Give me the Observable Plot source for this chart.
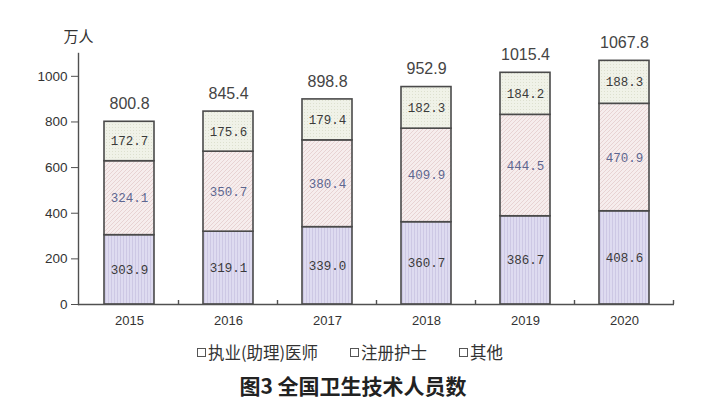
<!DOCTYPE html>
<html><head><meta charset="utf-8">
<script src="https://cdn.jsdelivr.net/npm/d3@7"></script>
<script src="https://cdn.jsdelivr.net/npm/@observablehq/plot@0.6"></script>
<style>
body{margin:0;background:#fff;width:720px;height:416px;overflow:hidden;font-family:"Noto Sans CJK SC",sans-serif}
#chart svg{display:block}
#legend{display:flex;justify-content:center;gap:32px;font-size:16.5px;color:#333;height:34px;align-items:center;padding-right:20px;box-sizing:border-box;width:720px}
#legend .item{display:flex;align-items:center}
#legend .sw{width:7px;height:7px;border:1.4px solid #555;background:#fff;margin-right:2px}
#title{text-align:center;font-size:21px;font-weight:bold;color:#222;padding-right:14px;margin-top:1px;line-height:30px}
</style></head>
<body>
<div id="chart"></div>
<div id="legend"></div>
<div id="title">图3 全国卫生技术人员数</div>
<script>
const years = ["2015","2016","2017","2018","2019","2020"];
const doctors = [303.9,319.1,339.0,360.7,386.7,408.6];
const nurses = [324.1,350.7,380.4,409.9,444.5,470.9];
const others = [172.7,175.6,179.4,182.3,184.2,188.3];
const totals = [800.8,845.4,898.8,952.9,1015.4,1067.8];
const seriesNames = ["执业(助理)医师","注册护士","其他"];
const yTicks = [0,200,400,600,800,1000];
const patternIds = ["pDoc","pNurse","pOther"];

const seriesValues = [doctors, nurses, others];
const rows = years.flatMap((yr, i) => seriesNames.map((s, k) => ({year: yr, series: s, value: seriesValues[k][i]})));
const totalRows = years.map((yr, i) => ({year: yr, total: totals[i]}));

function defsMark() {
  const defs = d3.create("svg:defs");
  const p1 = defs.append("pattern").attr("id","pDoc").attr("patternUnits","userSpaceOnUse").attr("width",3).attr("height",3);
  p1.append("rect").attr("width",3).attr("height",3).attr("fill","#dedbf0");
  p1.append("rect").attr("x",0).attr("width",1).attr("height",3).attr("fill","#cdc8e4");
  const p2 = defs.append("pattern").attr("id","pNurse").attr("patternUnits","userSpaceOnUse").attr("width",4).attr("height",4);
  p2.append("rect").attr("width",4).attr("height",4).attr("fill","#f6eded");
  p2.append("path").attr("d","M0,4L4,0M-1,1L1,-1M3,5L5,3").attr("stroke","#e6d0d0").attr("stroke-width",0.9);
  const p3 = defs.append("pattern").attr("id","pOther").attr("patternUnits","userSpaceOnUse").attr("width",3).attr("height",3);
  p3.append("rect").attr("width",3).attr("height",3).attr("fill","#f0f2e8");
  p3.append("rect").attr("x",1).attr("y",1).attr("width",1).attr("height",1).attr("fill","#dde0cf");
  return defs.node();
}

function boundaryTicks(index, scales, values, dims) {
  const x = scales.x;
  const step = x.step(), bw = x.bandwidth();
  const gap = (step - bw) / 2;
  const y0 = dims.height - dims.marginBottom;
  const g = d3.create("svg:g").attr("stroke", "#505050").attr("stroke-width", 1.4);
  years.forEach((yr) => {
    const xb = x(yr) + bw + gap;
    g.append("line").attr("x1", xb).attr("x2", xb).attr("y1", y0).attr("y2", y0 - 4);
  });
  return g.node();
}

const chart = Plot.plot({
  width: 720, height: 335,
  marginLeft: 78, marginRight: 46, marginTop: 53, marginBottom: 31,
  x: {type: "band", domain: years, paddingInner: 0.5, paddingOuter: 0.25, label: null},
  y: {domain: [0, 1100], label: null},
  color: {domain: seriesNames, range: patternIds.map(id => `url(#${id})`)},
  style: {fontFamily: "Liberation Sans, Arial, sans-serif", fontSize: "13px", color: "#333", background: "#fff"},
  marks: [
    defsMark,
    Plot.barY(rows, Plot.stackY({x: "year", y: "value", fill: "series", stroke: "#4a4a4a", strokeWidth: 1.6})),
    Plot.text(rows, Plot.stackY({x: "year", y: "value", z: "series", text: d => d.value.toFixed(1),
      fill: d => d.series === seriesNames[1] ? "#5d6690" : "#3a3a3a",
      fontFamily: "Liberation Mono, monospace", fontSize: 12.5, letterSpacing: -0.3})),
    Plot.text(totalRows, {x: "year", y: "total", text: d => d.total.toFixed(1), dy: -18, fontSize: 16, fill: "#444"}),
    Plot.frame({anchor: "left", stroke: "#505050", strokeWidth: 1.4}),
    Plot.ruleY([0], {stroke: "#505050", strokeWidth: 1.4}),
    boundaryTicks,
    Plot.axisY({ticks: yTicks, tickFormat: d3.format("d"), tickSize: 7, tickPadding: 4, fontSize: 13.5, stroke: "#505050", fill: "#333"}),
    Plot.axisX({tickSize: 0, tickPadding: 11, fontSize: 13, fill: "#333"}),
    Plot.text(["万人"], {frameAnchor: "top-left", dx: -15, dy: -22, fontSize: 15, fontFamily: "Noto Sans CJK SC", fill: "#333"})
  ]
});
document.getElementById("chart").append(chart);

const legend = d3.select("#legend");
seriesNames.forEach(s => {
  const it = legend.append("div").attr("class", "item");
  it.append("div").attr("class", "sw");
  it.append("span").text(s);
});
</script>
</body></html>
